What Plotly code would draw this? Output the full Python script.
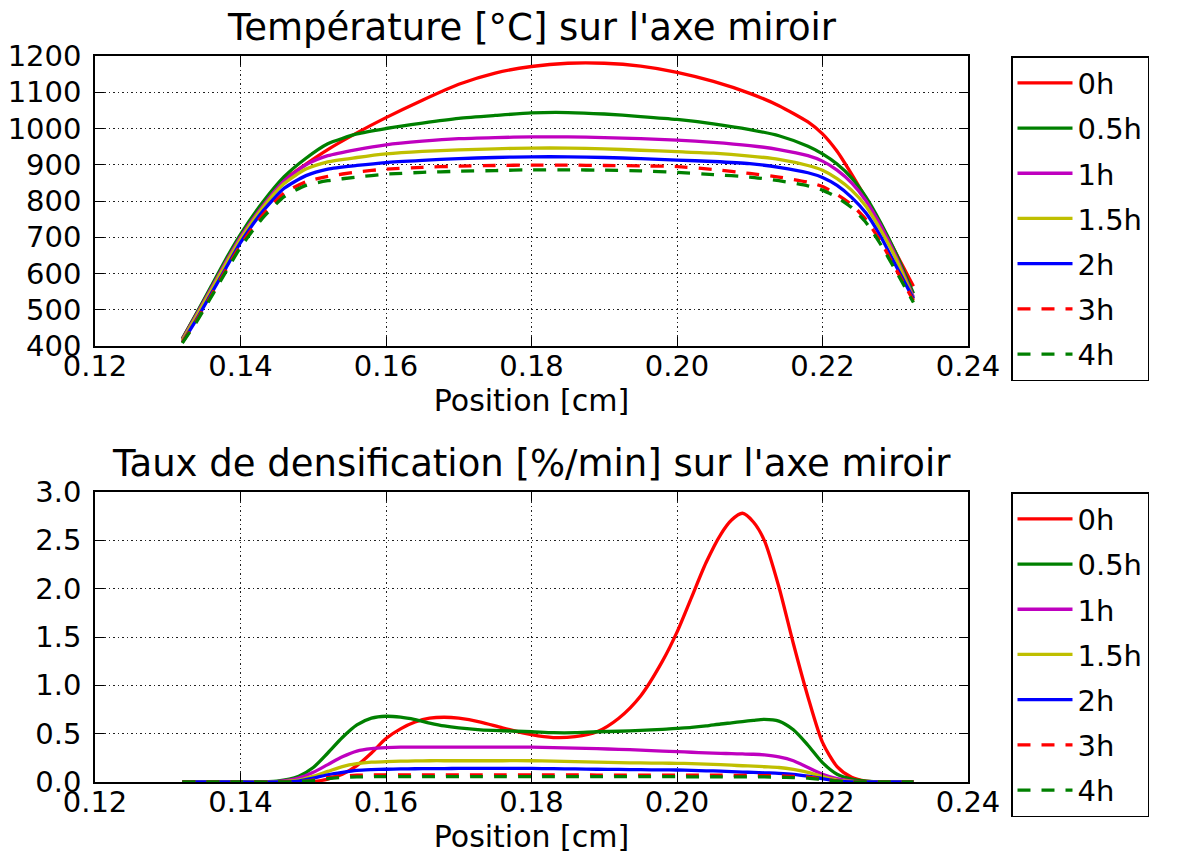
import plotly.graph_objects as go

# ---------------- data ----------------
labels = ["0h", "0.5h", "1h", "1.5h", "2h", "3h", "4h"]
colors = ["#ff0000", "#008000", "#bf00bf", "#bfbf00", "#0000ff", "#ff0000", "#008000"]
dashes = ["solid", "solid", "solid", "solid", "solid", "13px,11px", "13px,11px"]

# Temperature on the mirror axis
x_temp = [0.132, 0.134, 0.136, 0.138, 0.140, 0.143, 0.146, 0.149, 0.152, 0.156,
          0.160, 0.165, 0.170, 0.175, 0.180, 0.185, 0.190, 0.195, 0.200, 0.205,
          0.210, 0.214, 0.218, 0.220, 0.222, 0.224, 0.226, 0.228, 0.230, 0.2325]
temp_0h = [420, 490, 562, 634, 698, 785, 858, 902, 942, 988,
           1030, 1078, 1122, 1153, 1171, 1180, 1180, 1172, 1155, 1130,
           1097, 1063, 1018, 985, 937, 874, 806, 736, 660, 565]
temp_05h = [420, 492, 566, 640, 708, 795, 867, 918, 958, 985,
            1000, 1015, 1028, 1036, 1043, 1044, 1040, 1033, 1025, 1013,
            997, 980, 951, 930, 902, 864, 810, 740, 660, 545]
temp_1h = [418, 488, 560, 632, 700, 785, 855, 900, 925, 942,
           955, 965, 972, 975, 977, 977, 975, 972, 968, 962,
           953, 942, 925, 910, 885, 850, 800, 732, 652, 535]
temp_15h = [415, 484, 555, 627, 695, 780, 848, 888, 908, 920,
            930, 937, 941, 944, 946, 946, 944, 940, 936, 932,
            924, 915, 898, 885, 862, 830, 785, 720, 645, 530]
temp_2h = [410, 475, 545, 615, 685, 770, 835, 870, 888, 898,
           906, 912, 917, 920, 922, 922, 920, 917, 913, 909,
           903, 893, 878, 865, 843, 810, 766, 702, 625, 530]
temp_3h = [410, 472, 540, 610, 678, 760, 822, 853, 868, 880,
           888, 893, 896, 898, 899, 899, 898, 897, 895, 887,
           876, 866, 852, 840, 818, 790, 748, 688, 615, 525]
temp_4h = [408, 468, 536, 605, 672, 752, 812, 843, 856, 866,
           874, 879, 882, 884, 886, 886, 885, 883, 879, 873,
           866, 856, 842, 830, 810, 782, 740, 680, 610, 520]

# Densification rate on the mirror axis
x_rate = [0.132, 0.140, 0.145, 0.148, 0.150, 0.152, 0.154, 0.156, 0.158, 0.160,
          0.162, 0.164, 0.166, 0.168, 0.170, 0.173, 0.176, 0.180, 0.183, 0.186,
          0.189, 0.192, 0.195, 0.198, 0.200, 0.202, 0.204, 0.206, 0.2075, 0.209,
          0.2105, 0.212, 0.214, 0.216, 0.218, 0.220, 0.222, 0.224, 0.226, 0.228, 0.2325]
rate_0h = [0.0, 0.0, 0.0, 0.0, 0.005, 0.03, 0.08, 0.17, 0.30, 0.45,
           0.55, 0.62, 0.66, 0.67, 0.66, 0.62, 0.56, 0.49, 0.46, 0.47,
           0.52, 0.66, 0.89, 1.25, 1.55, 1.91, 2.27, 2.56, 2.71, 2.78,
           2.69, 2.50, 2.02, 1.43, 0.88, 0.41, 0.16, 0.05, 0.01, 0.0, 0.0]
rate_05h = [0.0, 0.0, 0.01, 0.06, 0.15, 0.30, 0.46, 0.59, 0.66, 0.68,
            0.67, 0.645, 0.61, 0.58, 0.56, 0.54, 0.53, 0.52, 0.51, 0.51,
            0.52, 0.525, 0.535, 0.545, 0.555, 0.565, 0.58, 0.60, 0.612, 0.625,
            0.638, 0.648, 0.63, 0.54, 0.38, 0.20, 0.08, 0.03, 0.01, 0.0, 0.0]
rate_1h = [0.0, 0.0, 0.005, 0.04, 0.10, 0.18, 0.26, 0.32, 0.345, 0.355,
           0.36, 0.36, 0.36, 0.36, 0.36, 0.36, 0.36, 0.36, 0.355, 0.35,
           0.345, 0.338, 0.33, 0.32, 0.314, 0.308, 0.302, 0.297, 0.293, 0.29,
           0.287, 0.28, 0.26, 0.22, 0.15, 0.08, 0.035, 0.01, 0.0, 0.0, 0.0]
rate_15h = [0.0, 0.0, 0.0, 0.02, 0.06, 0.11, 0.16, 0.19, 0.205, 0.21,
            0.215, 0.218, 0.22, 0.22, 0.22, 0.22, 0.22, 0.22, 0.215, 0.21,
            0.205, 0.2, 0.197, 0.195, 0.193, 0.19, 0.185, 0.18, 0.174, 0.168,
            0.164, 0.158, 0.15, 0.13, 0.10, 0.055, 0.02, 0.005, 0.0, 0.0, 0.0]
rate_2h = [0.0, 0.0, 0.0, 0.01, 0.04, 0.075, 0.10, 0.12, 0.128, 0.132,
           0.135, 0.137, 0.138, 0.139, 0.14, 0.14, 0.14, 0.14, 0.138, 0.135,
           0.132, 0.13, 0.127, 0.125, 0.124, 0.12, 0.116, 0.112, 0.107, 0.103,
           0.099, 0.095, 0.09, 0.08, 0.06, 0.035, 0.012, 0.0, 0.0, 0.0, 0.0]
rate_3h = [0.0, 0.0, 0.0, 0.005, 0.02, 0.045, 0.06, 0.07, 0.072, 0.073,
           0.073, 0.073, 0.073, 0.073, 0.073, 0.073, 0.073, 0.073, 0.073, 0.073,
           0.072, 0.072, 0.072, 0.071, 0.071, 0.07, 0.07, 0.07, 0.069, 0.069,
           0.068, 0.066, 0.063, 0.058, 0.05, 0.03, 0.01, 0.0, 0.0, 0.0, 0.0]
rate_4h = [0.0, 0.0, 0.0, 0.004, 0.015, 0.035, 0.048, 0.053, 0.055, 0.056,
           0.056, 0.056, 0.056, 0.056, 0.056, 0.056, 0.056, 0.056, 0.056, 0.056,
           0.055, 0.055, 0.055, 0.055, 0.055, 0.054, 0.054, 0.054, 0.053, 0.053,
           0.053, 0.052, 0.05, 0.046, 0.04, 0.025, 0.008, 0.0, 0.0, 0.0, 0.0]

temps = [temp_0h, temp_05h, temp_1h, temp_15h, temp_2h, temp_3h, temp_4h]
rates = [rate_0h, rate_05h, rate_1h, rate_15h, rate_2h, rate_3h, rate_4h]

title_top = "Température [°C] sur l'axe miroir"
title_bottom = "Taux de densification [%/min] sur l'axe miroir"
x_label = "Position [cm]"

# ---------------- figure ----------------
FONT = "DejaVu Sans"
fig = go.Figure()

for lab, col, dsh, ys in zip(labels, colors, dashes, temps):
    fig.add_trace(go.Scatter(x=x_temp, y=ys, name=lab, mode="lines",
                             line=dict(color=col, width=3.3, dash=dsh, shape="spline", smoothing=0.6),
                             xaxis="x", yaxis="y", legend="legend", legendgroup="t" + lab))
for lab, col, dsh, ys in zip(labels, colors, dashes, rates):
    fig.add_trace(go.Scatter(x=x_rate, y=ys, name=lab, mode="lines",
                             line=dict(color=col, width=3.3, dash=dsh, shape="spline", smoothing=0.75),
                             xaxis="x2", yaxis="y2", legend="legend2", legendgroup="r" + lab))

axis_common = dict(
    showline=True, linecolor="black", linewidth=1.5, mirror="allticks",
    ticks="inside", ticklen=9, tickwidth=1, tickcolor="black",
    showgrid=True, gridcolor="#222222", gridwidth=1, griddash="1.5px,3px",
    zeroline=False, tickfont=dict(family=FONT, size=29, color="black"),
    automargin=False,
)

xaxis_common = dict(axis_common, range=[0.12, 0.24], dtick=0.02, tick0=0.12,
                    tickformat=".2f", ticklabelstandoff=-7,
                    title=dict(text=x_label, font=dict(family=FONT, size=30, color="black"), standoff=2))

# page body has an 8px offset; plot areas at x 95..968, y 56..346 and 492..782 on screen
OFF = 8
L, R_EDGE, T, B_EDGE = 95 - OFF, 968 - OFF, 56 - OFF, 782 - OFF
H_PLOT = B_EDGE - T
top_dom = [(B_EDGE - (346 - OFF)) / H_PLOT, 1.0]
bot_dom = [0.0, (B_EDGE - (492 - OFF)) / H_PLOT]

legend_common = dict(
    x=(1011 - 95) / (968 - 95), xanchor="left", yanchor="top",
    bgcolor="white", bordercolor="black", borderwidth=1.5,
    font=dict(family=FONT, size=29, color="black"),
    tracegroupgap=4.5, itemwidth=55,
)

fig.update_layout(
    width=1181, height=854,
    margin=dict(l=L, r=1181 - R_EDGE, t=T, b=854 - B_EDGE, autoexpand=False),
    paper_bgcolor="white", plot_bgcolor="white",
    font=dict(family=FONT, color="black"),
    xaxis=dict(xaxis_common, domain=[0, 1], anchor="y"),
    yaxis=dict(axis_common, domain=top_dom, anchor="x", range=[400, 1200], dtick=100,
               ticklabelstandoff=6),
    xaxis2=dict(xaxis_common, domain=[0, 1], anchor="y2"),
    yaxis2=dict(axis_common, domain=bot_dom, anchor="x2", range=[0, 3], dtick=0.5,
                tickformat=".1f", ticklabelstandoff=6),
    legend=dict(legend_common, y=1.0),
    legend2=dict(legend_common, y=bot_dom[1]),
    annotations=[
        dict(text=title_top, xref="paper", yref="paper", x=0.5, y=top_dom[1],
             xanchor="center", yanchor="bottom", yshift=5, showarrow=False,
             font=dict(family=FONT, size=37, color="black")),
        dict(text=title_bottom, xref="paper", yref="paper", x=0.5, y=bot_dom[1],
             xanchor="center", yanchor="bottom", yshift=5, showarrow=False,
             font=dict(family=FONT, size=37, color="black")),
    ],
)

fig.write_html("out.html")
